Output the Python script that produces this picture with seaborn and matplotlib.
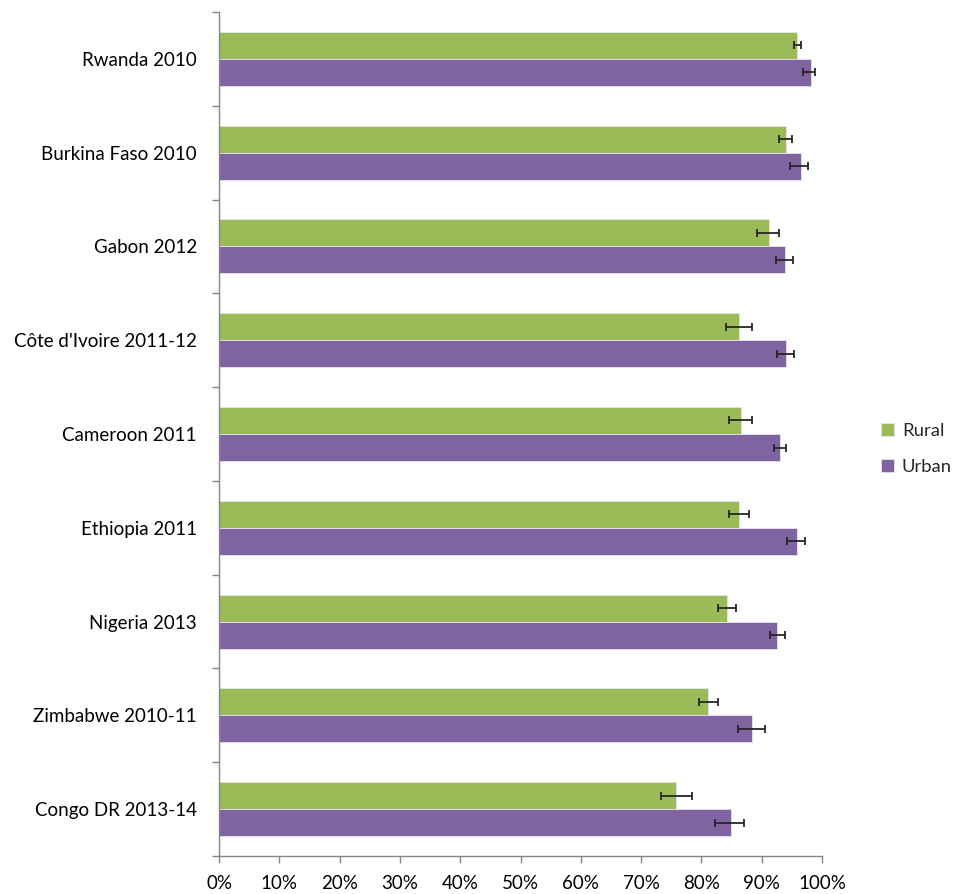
import matplotlib
matplotlib.use("Agg")
import matplotlib.pyplot as plt
from matplotlib.ticker import FixedLocator, PercentFormatter
import seaborn as sns
import pandas as pd
import numpy as np

# Survey results: share (%) by residence, with confidence interval bounds
countries = ["Rwanda 2010", "Burkina Faso 2010", "Gabon 2012", "Côte d'Ivoire 2011-12",
             "Cameroon 2011", "Ethiopia 2011", "Nigeria 2013", "Zimbabwe 2010-11",
             "Congo DR 2013-14"]
rural = [95.9, 94.0, 91.2, 86.3, 86.5, 86.3, 84.3, 81.1, 75.8]
rural_lo = [95.3, 92.9, 89.2, 84.1, 84.5, 84.5, 82.8, 79.6, 73.3]
rural_hi = [96.6, 95.1, 92.9, 88.4, 88.4, 87.9, 85.7, 82.7, 78.4]
urban = [98.1, 96.5, 93.9, 94.1, 93.0, 95.8, 92.6, 88.4, 84.9]
urban_lo = [96.9, 94.7, 92.3, 92.6, 92.0, 94.2, 91.4, 86.0, 82.3]
urban_hi = [98.9, 97.7, 95.2, 95.4, 94.0, 97.1, 93.8, 90.5, 87.1]
groups = ["Rural", "Urban"]
palette = {"Rural": "#9BBB59", "Urban": "#8064A2"}
x_ticks = list(range(0, 101, 10))

df = pd.DataFrame({
    "country": countries * 2,
    "group": [groups[0]] * len(countries) + [groups[1]] * len(countries),
    "value": rural + urban,
})

sns.set_style("white")
plt.rcParams["font.family"] = ["Lato", "DejaVu Sans"]

fig = plt.figure(figsize=(9.55, 8.94), dpi=100)
ax = fig.add_axes([219 / 955, 1 - 856 / 894, 603 / 955, 844 / 894])

sns.barplot(data=df, y="country", x="value", hue="group", order=countries,
            hue_order=groups, palette=palette, orient="h", width=0.576,
            errorbar=None, saturation=1, ax=ax, edgecolor="#e8e4ef",
            linewidth=0.6)

# confidence interval whiskers at each bar end
bounds = {"Rural": (rural, rural_lo, rural_hi), "Urban": (urban, urban_lo, urban_hi)}
for container, g in zip(ax.containers, groups):
    vals, lo, hi = bounds[g]
    ys = [p.get_y() + p.get_height() / 2 for p in container.patches]
    xerr = np.array([np.array(vals) - np.array(lo), np.array(hi) - np.array(vals)])
    ax.errorbar(vals, ys, xerr=xerr, fmt="none", ecolor="#262626",
                elinewidth=1.3, capsize=3.2, capthick=1.3, zorder=5)

ax.set_xlim(0, 100)
ax.set_ylim(len(countries) - 0.5, -0.5)
ax.xaxis.set_major_locator(FixedLocator(x_ticks))
ax.xaxis.set_major_formatter(PercentFormatter(decimals=0))
ax.yaxis.set_minor_locator(FixedLocator(np.arange(-0.5, len(countries), 1.0)))
ax.set_xlabel("")
ax.set_ylabel("")

for side in ["top", "right"]:
    ax.spines[side].set_visible(False)
for side in ["left", "bottom"]:
    ax.spines[side].set_color("#868686")
    ax.spines[side].set_linewidth(1.0)

ax.tick_params(axis="x", which="major", direction="out", length=5, width=1,
               color="#868686", labelsize=13.5, labelcolor="#000000", pad=9,
               bottom=True)
ax.tick_params(axis="y", which="major", length=0, labelsize=13.5,
               labelcolor="#000000", pad=16)
ax.tick_params(axis="y", which="minor", direction="out", length=5, width=1,
               color="#868686", left=True)

handles, labels = ax.get_legend_handles_labels()
ax.legend(handles, labels, loc="center left", bbox_to_anchor=(864 / 955, 1 - 449 / 894),
          bbox_transform=fig.transFigure, frameon=False, fontsize=13.3,
          handlelength=0.7, handleheight=0.7, handletextpad=0.45,
          labelspacing=1.1)

fig.savefig("out.png", dpi=100)
